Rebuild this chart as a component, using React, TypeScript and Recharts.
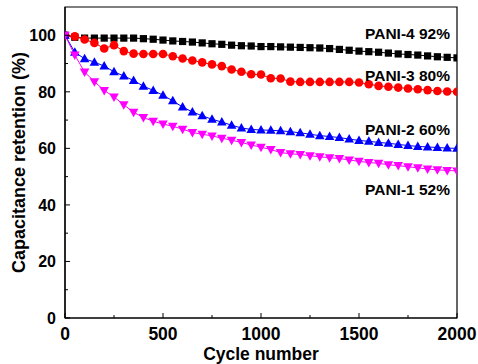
import { LineChart, Line, XAxis, YAxis, ReferenceArea, ReferenceDot } from "recharts";

const FONT = "'Liberation Sans', Arial, Helvetica, sans-serif";

const cycles = [
  0, 50, 100, 150, 200, 250, 300, 350, 400, 450, 500, 550, 600, 650, 700, 750, 800, 850, 900, 950,
  1000, 1050, 1100, 1150, 1200, 1250, 1300, 1350, 1400, 1450, 1500, 1550, 1600, 1650, 1700, 1750,
  1800, 1850, 1900, 1950, 2000,
];

const pani4 = [
  100, 99.3, 99, 99, 99, 99, 99, 99, 98.8, 98.6, 98.3, 98, 97.8, 97.6, 97.3, 97, 96.8, 96.5, 96.3,
  96.2, 96, 96, 95.9, 95.8, 95.7, 95.6, 95.5, 95.3, 95, 94.7, 94.4, 94.2, 94, 93.7, 93.4, 93.2, 93,
  92.7, 92.4, 92.2, 92,
];
const pani3 = [
  100, 99.6, 98.5, 97.3, 95.3, 96.5, 94.4, 93.5, 93.4, 93.4, 93.4, 92.6, 91.8, 91.1, 90.4, 89.7,
  89.1, 87.9, 87.1, 86.2, 86.1, 84.8, 84.7, 83.6, 83.5, 83.5, 83.5, 83.5, 83.5, 83.5, 83.3, 82.7,
  82.1, 81.8, 81.5, 81.2, 80.9, 80.6, 80.3, 80.1, 80,
];
const pani2 = [
  100, 94, 91.7, 90.5, 89.1, 87.1, 85.6, 84, 82, 80.5, 78.8, 76.8, 74.6, 72.9, 71.5, 70.3, 69.3,
  68.2, 67.2, 66.7, 66.5, 66.4, 66.2, 65.9, 65.5, 65, 64.5, 64.2, 63.8, 63.3, 62.8, 62.5, 62.1,
  61.8, 61.4, 61, 60.7, 60.5, 60.3, 60.1, 60,
];
const pani1 = [
  100, 93, 87, 83.6, 80.5, 78.2, 75.4, 72.8, 70.9, 69.6, 68.6, 67.8, 66.8, 65.6, 65, 64.4, 63.6,
  62.9, 62.1, 61.2, 60.4, 59.6, 58.5, 58.1, 57.8, 57.4, 57, 56.7, 56.4, 55.9, 55.4, 55, 54.7, 54.2,
  53.9, 53.5, 53.1, 52.7, 52.4, 52.2, 52,
];

const xTicks = [0, 250, 500, 750, 1000, 1250, 1500, 1750, 2000];
const yTicks = [0, 10, 20, 30, 40, 50, 60, 70, 80, 90, 100];

const data = cycles.map((c, i) => ({
  cycle: c,
  pani4: pani4[i],
  pani3: pani3[i],
  pani2: pani2[i],
  pani1: pani1[i],
}));

// marker shapes
const square = (color: string) => (p: any) =>
  <rect key={`s-${p.index}`} x={p.cx - 3.6} y={p.cy - 3.6} width={7.2} height={7.2} fill={color} />;
const circle = (color: string) => (p: any) =>
  <circle key={`c-${p.index}`} cx={p.cx} cy={p.cy} r={4.3} fill={color} />;
const triUp = (color: string) => (p: any) => (
  <path
    key={`u-${p.index}`}
    d={`M${p.cx},${p.cy - 5} L${p.cx + 4.8},${p.cy + 3.5} L${p.cx - 4.8},${p.cy + 3.5} Z`}
    fill={color}
  />
);
const triDown = (color: string) => (p: any) => (
  <path
    key={`d-${p.index}`}
    d={`M${p.cx},${p.cy + 5} L${p.cx + 4.8},${p.cy - 3.5} L${p.cx - 4.8},${p.cy - 3.5} Z`}
    fill={color}
  />
);

const series = [
  { key: "pani4", name: "PANI-4", color: "#000000", values: pani4, dot: square, labelY: 100.6 },
  { key: "pani3", name: "PANI-3", color: "#ff0000", values: pani3, dot: circle, labelY: 85.9 },
  { key: "pani2", name: "PANI-2", color: "#0000ff", values: pani2, dot: triUp, labelY: 66.8 },
  { key: "pani1", name: "PANI-1", color: "#ff00ff", values: pani1, dot: triDown, labelY: 45.6 },
];

// inward tick marks drawn together with the labels
const XTick = ({ x, y, payload }: any) => {
  const major = payload.value % 500 === 0;
  return (
    <g>
      <line x1={x} x2={x} y1={y} y2={y - (major ? 5 : 3)} stroke="#000" />
      {major && (
        <text x={x} y={y + 22} textAnchor="middle" fontFamily={FONT} fontWeight="bold" fontSize={17.5} fill="#000">
          {payload.value}
        </text>
      )}
    </g>
  );
};

const YTick = ({ x, y, payload }: any) => {
  const major = payload.value % 20 === 0;
  return (
    <g>
      <line x1={x} x2={x + (major ? 5 : 3)} y1={y} y2={y} stroke="#000" />
      {major && (
        <text x={x - 9} y={y + 5.7} textAnchor="end" fontFamily={FONT} fontWeight="bold" fontSize={16} fill="#000">
          {payload.value}
        </text>
      )}
    </g>
  );
};

export default function App() {
  return (
    <div style={{ position: "absolute", left: 0, top: 0, background: "#fff" }}>
      <LineChart width={478} height={364} data={data} margin={{ top: 7, right: 21, bottom: 0, left: 0 }}>
        <XAxis
          dataKey="cycle"
          type="number"
          domain={[0, 2000]}
          ticks={xTicks}
          interval={0}
          allowDataOverflow
          height={46}
          tickSize={0}
          tickMargin={0}
          tickLine={false}
          tick={<XTick />}
          axisLine={{ stroke: "#000", strokeWidth: 1.2 }}
          label={() => (
            <text x={261} y={359.5} textAnchor="middle" fontFamily={FONT} fontWeight="bold" fontSize={17.5} fill="#000">
              Cycle number
            </text>
          )}
        />
        <YAxis
          type="number"
          domain={[0, 110]}
          ticks={yTicks}
          interval={0}
          allowDataOverflow
          width={65}
          tickSize={0}
          tickMargin={0}
          tickLine={false}
          tick={<YTick />}
          axisLine={{ stroke: "#000", strokeWidth: 1.2 }}
          label={() => (
            <text
              x={25}
              y={162.5}
              transform="rotate(-90, 25, 162.5)"
              textAnchor="middle"
              fontFamily={FONT}
              fontWeight="bold"
              fontSize={18}
              fill="#000"
            >
              Capacitance retention (%)
            </text>
          )}
        />
        <ReferenceArea x1={0} x2={2000} y1={0} y2={110} fill="none" stroke="#000" strokeWidth={1.2} />
        {series.map((s) => (
          <Line
            key={s.key}
            dataKey={s.key}
            stroke={s.color}
            strokeWidth={1}
            dot={s.dot(s.color)}
            activeDot={false}
            isAnimationActive={false}
          />
        ))}
        {series.map((s) => (
          <ReferenceDot
            key={`lbl-${s.key}`}
            x={2000}
            y={s.labelY}
            r={0}
            shape={() => <g />}
            label={{
              value: `${s.name} ${s.values[s.values.length - 1]}%`,
              position: "left",
              offset: 7,
              fill: "#000",
              fontSize: 15.5,
              fontWeight: "bold",
              fontFamily: FONT,
            }}
          />
        ))}
      </LineChart>
    </div>
  );
}
